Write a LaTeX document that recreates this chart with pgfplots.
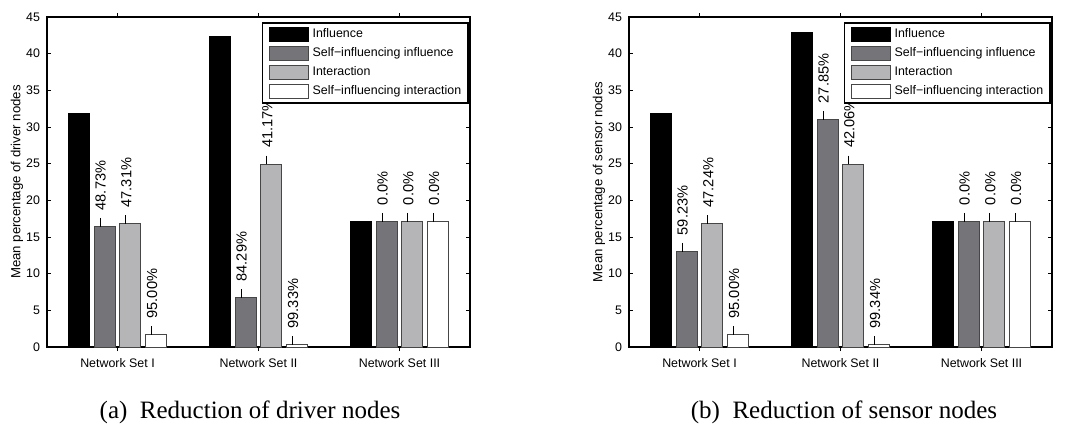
\documentclass[border=0pt]{standalone}
\usepackage{fontspec}
\setmainfont{Liberation Sans}
\newfontfamily\capfont{Liberation Serif}
\usepackage{pgfplots}
\pgfplotsset{compat=1.18}

\definecolor{cDark}{RGB}{116,116,121}
\definecolor{cLight}{RGB}{181,181,183}
\definecolor{cEdge}{RGB}{70,70,70}

\newcommand\tfont{\fontsize{6.2}{7}\selectfont}
\newcommand\yfont{\fontsize{6.6}{7.5}\selectfont}
\newcommand\lfont{\fontsize{7.3}{8}\selectfont}

\pgfplotsset{
  netax/.style={
    scale only axis, width=211.5pt, height=165pt,
    anchor=south west,
    xmin=-0.5, xmax=2.5, ymin=0, ymax=45,
    xtick={0,1,2},
    xticklabels={Network Set I, Network Set II, Network Set III},
    ytick={0,5,...,45},
    tick align=inside, tick pos=both, major tick length=2pt,
    axis line style={line width=0.6pt},
    tick style={line width=0.5pt, black},
    tick label style={font=\tfont},
    /pgf/number format/assume math mode=true,
    every axis y label/.style={at={(axis description cs:0,0.5)},
      xshift=-15pt, rotate=90, anchor=center, font=\yfont},
    legend cell align=left,
    legend style={at={(1,1)}, anchor=north east, xshift=-0.5pt, yshift=-2.5pt,
      draw=black, line width=0.8pt, font=\tfont,
      inner xsep=3pt, inner ysep=2pt, row sep=2pt, column sep=1.5pt,
      nodes={inner sep=0.5pt}},
    ybar, bar width=0.149,
  },
  leg/.style={legend image code/.code={\draw[##1] (0pt,-3.5pt) rectangle (19.5pt,3.5pt);}},
  b1/.style={fill=black, draw=black, line width=0.5pt, bar shift=-0.273, leg},
  b2/.style={fill=cDark, draw=cEdge, line width=0.5pt, bar shift=-0.091, leg},
  b3/.style={fill=cLight, draw=cEdge, line width=0.5pt, bar shift=0.091, leg},
  b4/.style={fill=white, draw=cEdge, line width=0.5pt, bar shift=0.273, leg},
  lab/.style={nodes near coords={\pgfplotspointmeta\%},
    point meta=explicit symbolic,
    every node near coord/.append style={font=\lfont, inner sep=0pt,
      yshift=8pt, xshift=-2pt, rotate=90, anchor=west},
    error bars/.cd, y dir=plus, y explicit, error mark=none,
    error bar style={black, line width=0.5pt, xshift=-2.3pt}},
}

\begin{document}
\begin{tikzpicture}
\useasboundingbox (0,0) rectangle (538.5pt,214.5pt);

% (a) driver nodes
\begin{axis}[netax, at={(23.5pt,41pt)}, ylabel={Mean percentage of driver nodes}]
\addplot[b1] table[x=x, y=y] {
x y
0 31.9
1 42.3
2 17.1
};
\addlegendentry{Influence}
\addplot[b2, lab] table[x=x, y=y, y error=e, meta=l] {
x y e l
0 16.4 1.2 48.73
1 6.7 1.2 84.29
2 17.1 1.2 0.0
};
\addlegendentry{Self−influencing influence}
\addplot[b3, lab] table[x=x, y=y, y error=e, meta=l] {
x y e l
0 16.8 1.2 47.31
1 24.9 1.2 41.17
2 17.1 1.2 0.0
};
\addlegendentry{Interaction}
\addplot[b4, lab] table[x=x, y=y, y error=e, meta=l] {
x y e l
0 1.65 1.2 95.00
1 0.3 1.2 99.33
2 17.1 1.2 0.0
};
\addlegendentry{Self−influencing interaction}
\end{axis}

% (b) sensor nodes
\begin{axis}[netax, at={(314.5pt,41pt)}, ylabel={Mean percentage of sensor nodes}]
\addplot[b1] table[x=x, y=y] {
x y
0 31.9
1 42.9
2 17.1
};
\addlegendentry{Influence}
\addplot[b2, lab] table[x=x, y=y, y error=e, meta=l] {
x y e l
0 13.0 1.2 59.23
1 31.0 1.2 27.85
2 17.1 1.2 0.0
};
\addlegendentry{Self−influencing influence}
\addplot[b3, lab] table[x=x, y=y, y error=e, meta=l] {
x y e l
0 16.8 1.2 47.24
1 24.9 1.2 42.06
2 17.1 1.2 0.0
};
\addlegendentry{Interaction}
\addplot[b4, lab] table[x=x, y=y, y error=e, meta=l] {
x y e l
0 1.65 1.2 95.00
1 0.3 1.2 99.34
2 17.1 1.2 0.0
};
\addlegendentry{Self−influencing interaction}
\end{axis}

\node[font=\capfont\fontsize{12.5}{14}\selectfont] at (125pt,8.5pt) {(a)\ \ Reduction of driver nodes};
\node[font=\capfont\fontsize{12.5}{14}\selectfont] at (422pt,8.5pt) {(b)\ \ Reduction of sensor nodes};
\end{tikzpicture}
\end{document}
